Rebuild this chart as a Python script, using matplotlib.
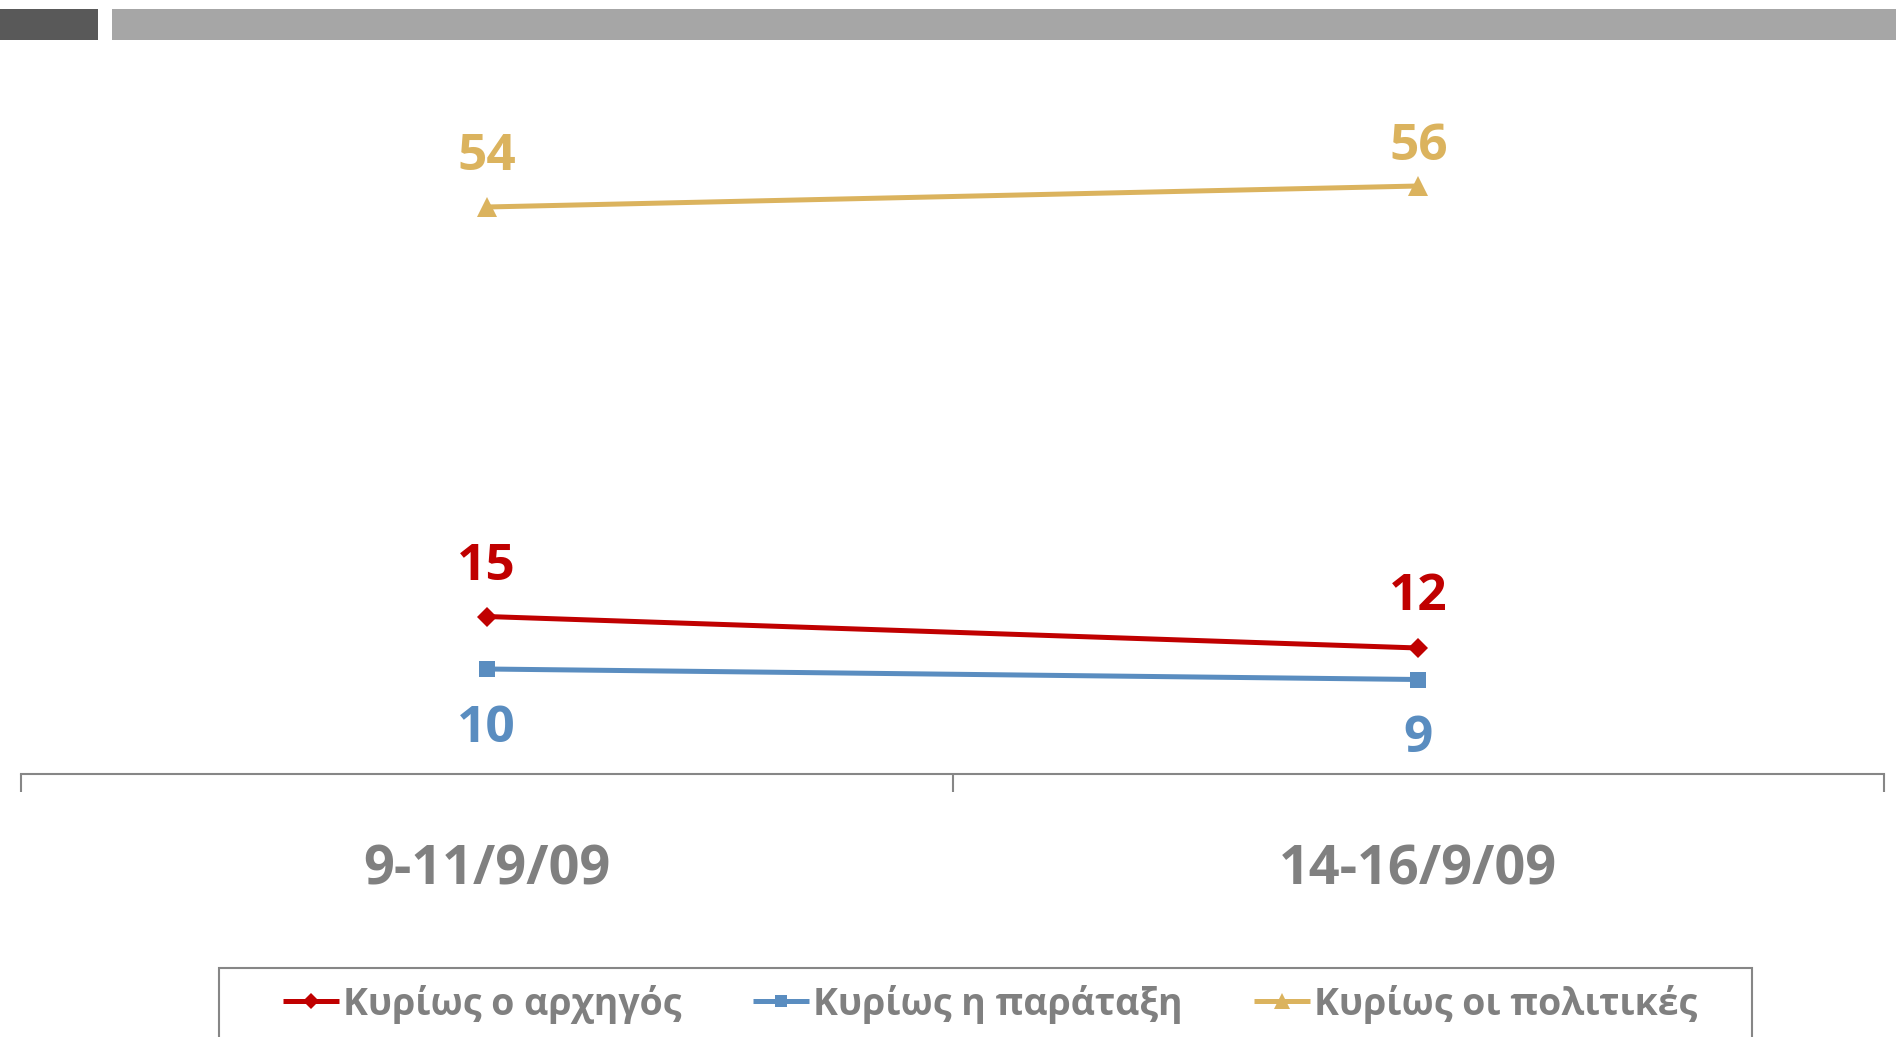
import matplotlib
matplotlib.use("Agg")
import matplotlib.pyplot as plt
from matplotlib.patches import Rectangle

plt.rcParams['font.family'] = ['Open Sans', 'DejaVu Sans']

categories = ["9-11/9/09", "14-16/9/09"]
series_names = ["Κυρίως ο αρχηγός", "Κυρίως η παράταξη", "Κυρίως οι πολιτικές"]
leader = [15, 12]
party = [10, 9]
policies = [54, 56]

colors = ["#C00000", "#5A8DC0", "#DBB35E"]
markers = ["D", "s", "^"]
msizes = [10, 11, 14]
# vertical offsets (points) of the data labels from their markers
label_offsets = [[36, 37], [-43, -43], [36, 28]]
gray = "#808080"

W, H = 1896, 1037
fig = plt.figure(figsize=(W / 100, H / 100), dpi=100)

# header bars
fig.patches.append(Rectangle((0, 1 - 40 / H), 98 / W, 31 / H, transform=fig.transFigure,
                             facecolor="#595959", edgecolor="none"))
fig.patches.append(Rectangle((112 / W, 1 - 40 / H), (W - 112) / W, 31 / H, transform=fig.transFigure,
                             facecolor="#A6A6A6", edgecolor="none"))

axis_y = 774
ymax = 60
px_per_unit = 10.5
ax = fig.add_axes([21 / W, (H - axis_y) / H, (1884 - 21) / W, ymax * px_per_unit / H])
ax.set_xlim(-0.5, 1.5)
ax.set_ylim(0, ymax)

x = list(range(len(categories)))
for vals, name, c, m, ms, offs in zip([leader, party, policies], series_names, colors, markers, msizes, label_offsets):
    ax.plot(x, vals, color=c, lw=3.6, marker=m, markersize=ms, markeredgewidth=0,
            label=name, clip_on=False, solid_capstyle="butt")
    for xi, v, off in zip(x, vals, offs):
        ax.annotate(str(v), (xi, v), xytext=(0, off), textcoords="offset points",
                    ha="center", va="center", color=c, fontsize=37, fontweight="bold",
                    annotation_clip=False)

for s in ["left", "top", "right"]:
    ax.spines[s].set_visible(False)
ax.spines["bottom"].set_color("#868686")
ax.spines["bottom"].set_linewidth(1.5)
ax.set_yticks([])
ax.set_xticks(x)
ax.set_xticklabels(categories, fontsize=39, fontweight="bold", color=gray)
ax.tick_params(axis="x", which="major", length=0, pad=50)
ax.set_xticks([-0.5, 0.5, 1.5], minor=True)
ax.tick_params(axis="x", which="minor", length=13, width=1.5, color="#868686", direction="out")

# legend frame (runs off the bottom edge as in the reference)
fig.patches.append(Rectangle((219 / W, -10 / H), (1752 - 219) / W, (H - 968 + 10) / H,
                             transform=fig.transFigure, facecolor="white",
                             edgecolor="#868686", linewidth=1.5, zorder=0))

leg = fig.legend(loc="center", bbox_to_anchor=(990 / W, 1 - 1004 / H), ncol=3,
                 prop={"family": "Open Sans", "weight": "bold", "size": 27},
                 handlelength=1.5, handletextpad=0.1, columnspacing=1.9,
                 borderpad=0, borderaxespad=0, frameon=False, markerscale=0.8)
for t in leg.get_texts():
    t.set_color(gray)

fig.savefig("out.png", dpi=100)
